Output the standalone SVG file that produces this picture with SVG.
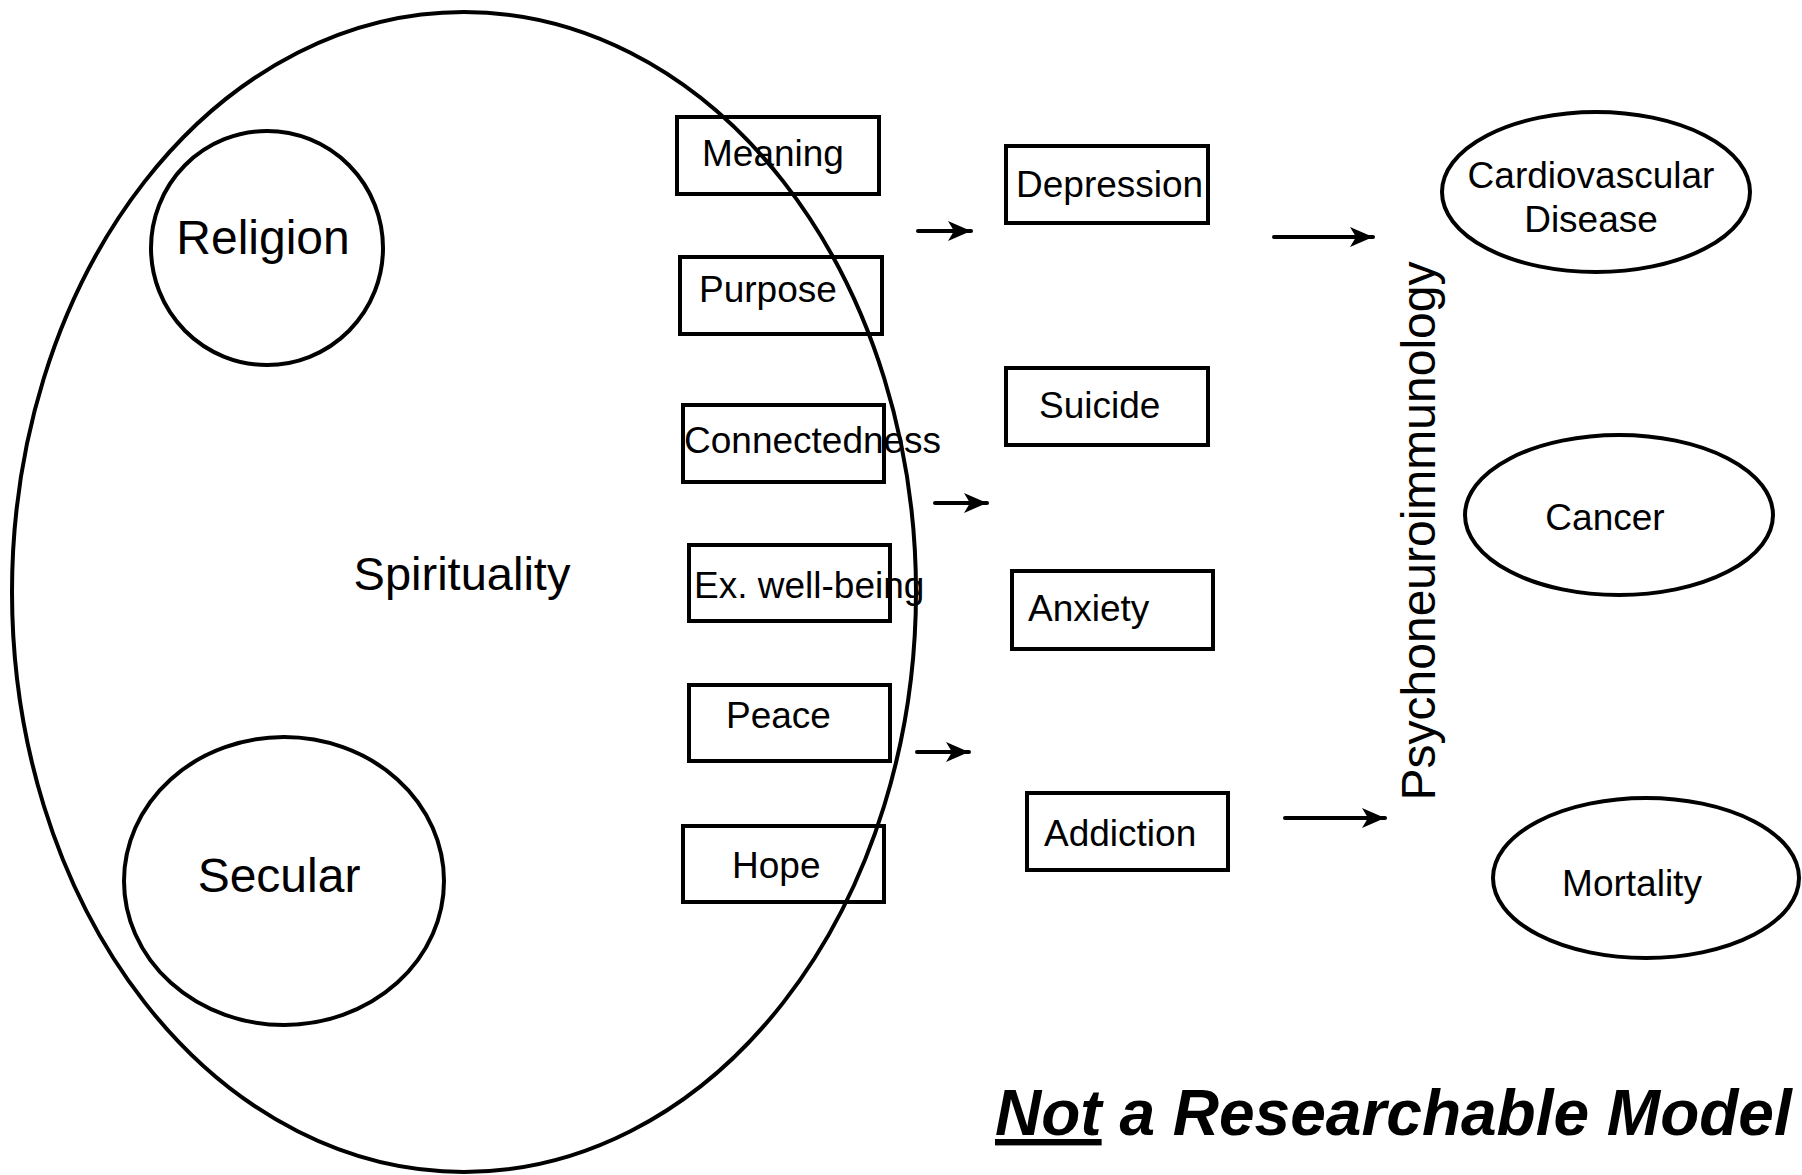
<svg xmlns="http://www.w3.org/2000/svg" width="1802" height="1175" viewBox="0 0 1802 1175">
<style>
  .shape { fill: none; stroke: #000; stroke-width: 4; }
  .lbl { font-family: "Liberation Sans", Arial, sans-serif; fill: #000; }
  .box { font-size: 37px; }
  .oval { font-size: 37px; text-anchor: middle; }
  .conn { stroke: #000; stroke-width: 4; stroke-linecap: round; fill: none; }
</style>
<defs>
  <marker id="arr" markerUnits="userSpaceOnUse" markerWidth="26" markerHeight="22" viewBox="0 -11 26 22" refX="23" refY="0" orient="auto">
    <path d="M0,-10 L23,0 L0,10 L6,0 z" fill="#000"/>
  </marker>
</defs>
<rect width="1802" height="1175" fill="#fff"/>

<g id="spirituality">
  <ellipse class="shape" cx="464" cy="592" rx="452" ry="580"/>
  <text class="lbl" x="462" y="590" font-size="47" text-anchor="middle">Spirituality</text>
</g>
<g id="religion">
  <ellipse class="shape" cx="267" cy="248" rx="116" ry="117"/>
  <text class="lbl" x="263" y="254" font-size="48" text-anchor="middle">Religion</text>
</g>
<g id="secular">
  <ellipse class="shape" cx="284" cy="881" rx="160" ry="144"/>
  <text class="lbl" x="279" y="892" font-size="48" text-anchor="middle">Secular</text>
</g>

<g id="meaning">
  <rect class="shape" x="677" y="117" width="202" height="77"/>
  <text class="lbl box" x="702" y="166">Meaning</text>
</g>
<g id="purpose">
  <rect class="shape" x="680" y="257" width="202" height="77"/>
  <text class="lbl box" x="699" y="302">Purpose</text>
</g>
<g id="connectedness">
  <rect class="shape" x="683" y="405" width="201" height="77"/>
  <text class="lbl box" x="684" y="453">Connectedness</text>
</g>
<g id="ex-well-being">
  <rect class="shape" x="689" y="545" width="201" height="76"/>
  <text class="lbl box" x="694" y="598">Ex. well-being</text>
</g>
<g id="peace">
  <rect class="shape" x="689" y="685" width="201" height="76"/>
  <text class="lbl box" x="726" y="728">Peace</text>
</g>
<g id="hope">
  <rect class="shape" x="683" y="826" width="201" height="76"/>
  <text class="lbl box" x="732" y="878">Hope</text>
</g>

<g id="depression">
  <rect class="shape" x="1006" y="146" width="202" height="77"/>
  <text class="lbl box" x="1016" y="197">Depression</text>
</g>
<g id="suicide">
  <rect class="shape" x="1006" y="368" width="202" height="77"/>
  <text class="lbl box" x="1039" y="418">Suicide</text>
</g>
<g id="anxiety">
  <rect class="shape" x="1012" y="571" width="201" height="78"/>
  <text class="lbl box" x="1028" y="621">Anxiety</text>
</g>
<g id="addiction">
  <rect class="shape" x="1027" y="793" width="201" height="77"/>
  <text class="lbl box" x="1044" y="846">Addiction</text>
</g>

<g id="psychoneuroimmunology">
  <text class="lbl" transform="translate(1435,531) rotate(-90)" font-size="48" text-anchor="middle">Psychoneuroimmunology</text>
</g>

<g id="cardiovascular">
  <ellipse class="shape" cx="1596" cy="192" rx="154" ry="80"/>
  <text class="lbl oval" x="1591" y="188">Cardiovascular</text>
  <text class="lbl oval" x="1591" y="232">Disease</text>
</g>
<g id="cancer">
  <ellipse class="shape" cx="1619" cy="515" rx="154" ry="80"/>
  <text class="lbl oval" x="1605" y="530">Cancer</text>
</g>
<g id="mortality">
  <ellipse class="shape" cx="1646" cy="878" rx="153" ry="80"/>
  <text class="lbl oval" x="1632" y="896">Mortality</text>
</g>

<g id="connectors">
  <line class="conn" x1="918" y1="231" x2="971" y2="231" marker-end="url(#arr)"/>
  <line class="conn" x1="935" y1="503" x2="987" y2="503" marker-end="url(#arr)"/>
  <line class="conn" x1="917" y1="752" x2="969" y2="752" marker-end="url(#arr)"/>
  <line class="conn" x1="1274" y1="237" x2="1373" y2="237" marker-end="url(#arr)"/>
  <line class="conn" x1="1285" y1="818" x2="1385" y2="818" marker-end="url(#arr)"/>
</g>

<g id="caption">
  <text class="lbl" x="995" y="1135" font-size="64" font-weight="bold" font-style="italic"><tspan text-decoration="underline">Not</tspan> a Researchable Model</text>
</g>
</svg>
